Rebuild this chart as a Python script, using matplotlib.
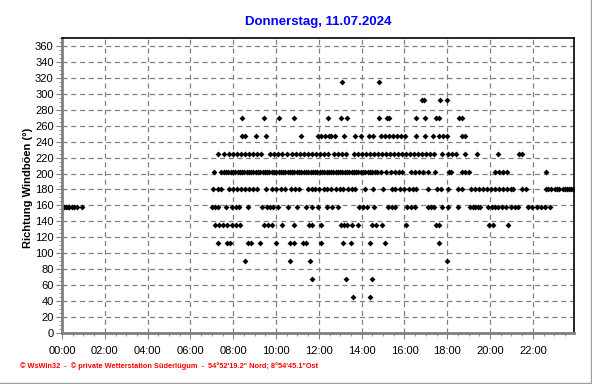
import matplotlib
matplotlib.use("Agg")
import matplotlib.pyplot as plt
from matplotlib.lines import Line2D
from matplotlib.ticker import MultipleLocator, FuncFormatter

plt.rcParams['font.family'] = ['Liberation Sans', 'DejaVu Sans']

# gust direction (deg) -> times of day (hours)
d45 = [13.60, 14.40]
d67 = [11.69, 13.29, 14.46]
d90 = [8.57, 10.66, 11.60, 18.00]
d112 = [7.27, 7.70, 7.86, 8.67, 8.82, 9.24, 9.99, 10.65, 10.85, 11.27, 11.38,
        12.09, 13.14, 13.49, 14.38, 15.08, 17.61]
d135 = [7.14, 7.33, 7.51, 7.70, 7.92, 8.11, 8.32, 9.45, 9.63, 9.82, 10.26,
        10.85, 11.53, 11.69, 12.12, 13.03, 13.18, 13.31, 13.53, 13.84, 14.46,
        14.69, 14.93, 16.07, 17.45, 17.61, 19.94, 20.15, 20.85]
d157 = [0.02, 0.10, 0.18, 0.27, 0.35, 0.45, 0.55, 0.68, 0.95,
        7.02, 7.15, 7.30, 7.67, 7.95, 8.12, 8.29, 8.67, 9.35, 9.56, 9.74, 9.87,
        10.07, 10.54, 10.99, 11.42, 11.69, 11.94, 12.37, 12.62, 12.90, 13.88,
        14.07, 14.24, 14.59, 15.21, 15.40, 15.58, 16.11, 16.30, 16.49, 17.11,
        17.26, 17.39, 17.73, 18.02, 18.48, 19.06, 19.20, 19.29, 19.42, 19.55,
        19.88, 20.07, 20.22, 20.38, 20.57, 20.75, 21.00, 21.16, 21.31, 21.78,
        21.97, 22.17, 22.37, 22.56, 22.79]
d180 = [7.06, 7.27, 7.45, 7.79, 7.98, 8.17, 8.36, 8.54, 8.73, 8.92, 9.10,
        9.51, 9.82, 10.02, 10.22, 10.41, 10.69, 10.88, 11.07, 11.47, 11.66,
        11.84, 12.03, 12.22, 12.40, 12.59, 12.78, 12.97, 13.15, 13.34, 13.53,
        13.71, 14.15, 14.54, 15.01, 15.40, 15.58, 15.77, 15.96, 16.21, 16.39,
        16.52, 17.11, 17.54, 17.70, 18.04, 18.51, 18.70, 19.10, 19.29, 19.48,
        19.66, 19.85, 20.04, 20.22, 20.41, 20.60, 20.79, 20.97, 21.06, 21.50,
        21.69, 22.60, 22.72, 22.83, 23.01, 23.12, 23.20, 23.39, 23.50, 23.57,
        23.68, 23.76, 23.86]
d202 = [7.11, 7.45, 7.56, 7.66, 7.77, 7.88, 7.98, 8.09, 8.20, 8.30, 8.41,
        8.52, 8.62, 8.73, 8.84, 8.94, 9.05, 9.16, 9.26, 9.37, 9.48, 9.58, 9.69,
        9.80, 9.90, 10.01, 10.12, 10.22, 10.33, 10.44, 10.54, 10.65, 10.76,
        10.86, 10.97, 11.08, 11.18, 11.29, 11.40, 11.50, 11.61, 11.72, 11.82,
        11.93, 12.04, 12.14, 12.25, 12.36, 12.46, 12.57, 12.68, 12.78, 12.89,
        13.00, 13.10, 13.21, 13.32, 13.42, 13.53, 13.64, 13.74, 13.85, 13.96,
        14.06, 14.17, 14.28, 14.38, 14.49, 14.60, 14.70, 14.90, 15.16, 15.36,
        15.55, 15.74, 15.89, 16.30, 16.49, 16.67, 16.87, 17.08, 17.42, 18.07,
        18.17, 18.67, 18.85, 19.01, 20.22, 20.41, 20.60, 20.79, 22.61]
d225 = [7.30, 7.58, 7.79, 7.98, 8.17, 8.36, 8.54, 8.73, 8.92, 9.10, 9.32,
        9.71, 9.90, 10.10, 10.30, 10.49, 10.75, 10.94, 11.13, 11.31, 11.50,
        11.69, 11.88, 12.06, 12.25, 12.44, 12.72, 12.90, 13.09, 13.28, 13.65,
        13.84, 14.02, 14.21, 14.40, 14.59, 14.74, 14.96, 15.15, 15.33, 15.52,
        15.71, 15.89, 16.08, 16.27, 16.45, 16.64, 16.83, 17.01, 17.20, 17.39,
        17.73, 18.04, 18.23, 18.39, 18.82, 19.37, 20.38, 21.35, 21.50]
d247 = [8.42, 8.54, 9.07, 9.54, 11.17, 11.97, 12.12, 12.28, 12.47, 12.59,
        12.75, 13.18, 13.71, 13.96, 14.34, 14.54, 14.90, 15.08, 15.27, 15.46,
        15.64, 15.83, 16.02, 16.56, 16.95, 17.31, 17.62, 17.81, 18.00, 18.67,
        18.85]
d270 = [8.42, 9.45, 10.14, 10.85, 12.44, 13.03, 13.31, 14.82, 15.18, 15.30,
        16.55, 16.97, 17.48, 17.61, 18.57, 18.70]
d292 = [16.80, 16.90, 17.67, 17.98]
d315 = [13.09, 14.82]

levels = [45, 67.5, 90, 112.5, 135, 157.5, 180, 202.5, 225, 247.5, 270, 292.5, 315]
series = [d45, d67, d90, d112, d135, d157, d180, d202, d225, d247, d270, d292, d315]

title = "Donnerstag, 11.07.2024"
ylabel = "Richtung Windböen (°)"
footer = "© WsWin32  -  © private Wetterstation Süderlügum  -  54°52'19.2\" Nord; 8°54'45.1\"Ost"

fig = plt.figure(figsize=(5.92, 3.84), dpi=100)
ax = fig.add_axes([62 / 592, 1 - 333 / 384, (574 - 62) / 592, (333 - 38) / 384])

for lev, times in zip(levels, series):
    ax.plot(times, [lev] * len(times), linestyle='none', marker='D',
            markersize=3.0, color='black', markeredgewidth=0)

ax.set_xlim(0, 23.92)
ax.set_ylim(0, 370)
ax.xaxis.set_major_locator(MultipleLocator(2))
ax.xaxis.set_minor_locator(MultipleLocator(0.5))
ax.yaxis.set_major_locator(MultipleLocator(20))
ax.yaxis.set_minor_locator(MultipleLocator(5))
ax.xaxis.set_major_formatter(FuncFormatter(lambda v, p: "%02d:00" % int(round(v))))
ax.tick_params(axis='both', which='major', labelsize=8, length=4, color='#808080')
ax.tick_params(axis='both', which='minor', length=2, color='#808080')
ax.tick_params(axis='x', pad=5)
ax.tick_params(axis='y', pad=2)

ax.grid(True, which='major', color='#808080', linestyle=(0, (4, 3)), linewidth=0.9)
ax.set_axisbelow(True)

for s in ['left', 'bottom']:
    ax.spines[s].set_color('#808080')
    ax.spines[s].set_linewidth(2)
for s in ['top', 'right']:
    ax.spines[s].set_color('black')
    ax.spines[s].set_linewidth(1.2)

fig.text(318 / 592, 1 - 22 / 384, title, color='#0000ff', fontweight='bold',
         fontsize=9.5, ha='center', va='center')
fig.text(28 / 592, 1 - 188 / 384, ylabel, rotation=90, fontweight='bold',
         fontsize=8, ha='center', va='center')
fig.text(20 / 592, 1 - 366 / 384, footer, color='red', fontsize=5.3,
         fontweight='bold', ha='left', va='center')

fig.add_artist(Line2D([0, 591 / 592], [1 - 382.5 / 384] * 2, color='#a0a0a0',
                      lw=1, transform=fig.transFigure))
fig.add_artist(Line2D([591 / 592] * 2, [1 - 382.5 / 384, 1], color='#a0a0a0',
                      lw=1, transform=fig.transFigure))

fig.savefig("out.png", dpi=100)
